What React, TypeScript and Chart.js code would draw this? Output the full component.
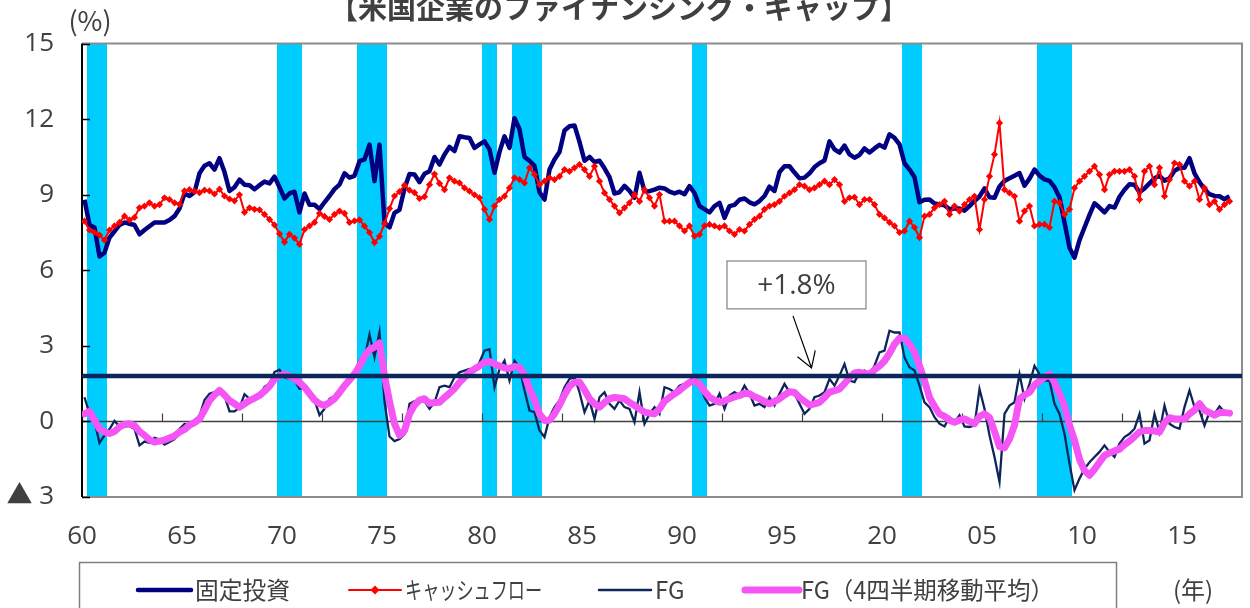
import React, { useEffect, useRef } from 'react';
import { Chart, registerables } from 'chart.js';

Chart.register(...registerables);

// ---------------- data ----------------
const START_YEAR = 1960; // first quarter = 1960Q1
const AXIS_QUARTERS = 232; // 1960Q1 .. 2017Q4
const X_LABELS = ['60', '65', '70', '75', '80', '85', '90', '95', '20', '05', '10', '15'];
const X_LABEL_STEP = 20; // quarters between year labels
const X_TICK_STEP = 16; // quarters between tick marks on the zero line
const Y_TICKS = [-3, 0, 3, 6, 9, 12, 15];
const Y_TICK_LABELS = ['▲ 3', '0', '3', '6', '9', '12', '15'];
const FG_AVERAGE = 1.8;
const FG_AVERAGE_TEXT = '+1.8%';
const TITLE = '【米国企業のファイナンシング・ギャップ】';
const SERIES_NAMES = ['固定投資', 'キャッシュフロー', 'FG', 'FG（4四半期移動平均）'];

// recession periods (fractional years, start / end)
const RECESSION_START = [1960.25, 1969.75, 1973.75, 1980.0, 1981.5, 1990.5, 2001.0, 2007.75];
const RECESSION_END = [1961.25, 1971.0, 1975.25, 1980.75, 1983.0, 1991.25, 2002.0, 2009.5];

const FIXED_INVESTMENT = [
  8.8, 7.8, 7.7, 6.55, 6.7, 7.3, 7.55, 7.8, 7.9, 7.85,
  7.8, 7.43, 7.6, 7.75, 7.9, 7.9, 7.9, 8.0, 8.15, 8.45,
  9.05, 8.95, 9.1, 9.85, 10.15, 10.25, 10.0, 10.45, 9.9, 9.15,
  9.3, 9.6, 9.4, 9.38, 9.22, 9.38, 9.52, 9.45, 9.72, 9.3,
  8.85, 9.05, 9.12, 8.3, 9.05, 8.6, 8.6, 8.43, 8.7, 8.95,
  9.22, 9.4, 9.85, 9.68, 9.75, 10.33, 10.4, 10.99, 9.54, 10.99,
  7.9, 7.7, 8.28, 8.4, 9.25, 9.82, 9.8, 9.5, 9.83, 9.93,
  10.5, 10.2, 10.6, 10.9, 10.73, 11.32, 11.28, 11.25, 10.86, 11.0,
  11.12, 10.8, 9.87, 10.7, 11.32, 10.86, 12.04, 11.6, 10.5, 10.35,
  10.15, 9.1, 8.81, 10.0, 10.4, 10.7, 11.55, 11.72, 11.75, 11.1,
  10.35, 10.5, 10.3, 10.35, 10.05, 9.7, 9.05, 9.1, 9.35, 9.15,
  8.88, 9.87, 9.14, 9.14, 9.2, 9.28, 9.25, 9.12, 9.05, 9.12,
  9.02, 9.34, 9.07, 8.55, 8.43, 8.3, 8.55, 8.68, 8.08, 8.55,
  8.6, 8.8, 8.85, 8.7, 8.62, 8.75, 8.95, 9.32, 9.15, 9.9,
  10.13, 10.13, 9.88, 9.65, 9.68, 9.85, 10.1, 10.25, 10.36, 11.12,
  10.8, 10.67, 10.95, 10.6, 10.47, 10.58, 10.84, 10.68, 10.84, 10.98,
  10.87, 11.4, 11.26, 11.0, 10.25, 10.0, 9.7, 8.7, 8.8, 8.81,
  8.65, 8.61, 8.58, 8.42, 8.45, 8.45, 8.37, 8.55, 8.75, 8.93,
  9.25, 8.9, 8.88, 9.33, 9.55, 9.65, 9.75, 9.86, 9.36, 9.64,
  10.0, 9.76, 9.61, 9.55, 9.3, 8.9, 7.9, 6.9, 6.5, 7.2,
  7.7, 8.2, 8.66, 8.49, 8.3, 8.55, 8.49, 8.92, 9.2, 9.42,
  9.4, 9.1, 9.25, 9.45, 9.65, 9.75, 9.56, 9.65, 9.95, 10.07,
  10.07, 10.45, 9.85, 9.5, 9.22, 9.02, 8.95, 8.94, 8.82, 8.94,
];

const CASH_FLOW = [
  7.95, 7.6, 7.5, 7.4, 7.2, 7.6, 7.76, 7.9, 8.15, 8.0,
  8.1, 8.48, 8.55, 8.68, 8.55, 8.61, 8.88, 8.81, 8.68, 8.62,
  9.15, 9.2, 9.14, 9.08, 9.18, 9.15, 9.03, 9.22, 8.95, 8.83,
  8.76, 9.0, 8.3, 8.48, 8.42, 8.4, 8.22, 8.02, 7.8, 7.45,
  7.12, 7.43, 7.28, 7.03, 7.62, 7.76, 7.9, 8.26, 8.14, 8.02,
  8.22, 8.35, 8.26, 7.9, 7.96, 8.0, 7.75, 7.5, 7.1, 7.35,
  7.85, 8.45, 8.95, 9.12, 9.38, 9.18, 9.08, 8.85, 8.92, 9.4,
  9.82, 9.45, 9.2, 9.67, 9.54, 9.47, 9.27, 9.14, 9.0, 8.88,
  8.42, 8.02, 8.55, 8.81, 8.94, 9.27, 9.67, 9.6, 9.47, 10.07,
  9.8, 9.4, 9.54, 9.67, 9.6, 9.73, 10.0, 9.93, 10.07, 10.2,
  10.0, 9.73, 10.13, 9.54, 9.07, 8.81, 8.55, 8.28, 8.48, 8.68,
  9.01, 8.74, 9.2, 8.88, 8.55, 9.01, 7.95, 7.95, 7.95, 7.76,
  7.56, 7.76, 7.36, 7.43, 7.76, 7.82, 7.76, 7.7, 7.76, 7.56,
  7.43, 7.62, 7.56, 7.82, 8.02, 8.15, 8.42, 8.55, 8.61, 8.74,
  8.94, 9.07, 9.2, 9.4, 9.34, 9.2, 9.27, 9.4, 9.54, 9.4,
  9.6, 9.4, 8.74, 8.88, 8.9, 8.61, 8.81, 8.81, 8.61, 8.22,
  8.08, 7.9, 7.76, 7.5, 7.56, 7.95, 7.7, 7.3, 8.15, 8.22,
  8.48, 8.61, 8.74, 8.22, 8.55, 8.35, 8.61, 8.81, 8.94, 7.62,
  8.81, 9.73, 10.6, 11.85, 9.2, 9.07, 8.94, 7.95, 8.35, 8.55,
  7.76, 7.82, 7.82, 7.7, 8.74, 8.68, 8.22, 8.42, 9.27, 9.54,
  9.73, 9.93, 10.13, 9.8, 9.2, 9.8, 9.93, 9.93, 9.93, 10.0,
  9.73, 8.81, 9.93, 10.13, 9.4, 10.07, 8.94, 9.6, 10.26, 10.2,
  9.54, 9.34, 9.54, 8.81, 9.27, 8.61, 8.74, 8.42, 8.61, 8.74,
];

const FG = [
  0.96, 0.3, 0.0, -0.85, -0.55, -0.3, 0.02, -0.2, -0.2, -0.18,
  -0.3, -0.95, -0.8, -0.85, -0.65, -0.72, -0.92, -0.82, -0.7, -0.3,
  -0.1, -0.14, 0.05, 0.22, 0.85, 1.1, 1.16, 1.27, 1.02, 0.4,
  0.4, 0.55, 1.08, 0.9, 0.96, 1.0, 1.37, 1.5, 1.96, 2.05,
  1.75, 1.69, 1.64, 1.3, 1.32, 1.0, 0.85, 0.25, 0.5, 0.9,
  1.0, 1.12, 1.3, 1.7, 1.95, 2.42, 2.5, 3.45, 2.55, 3.55,
  0.8, -0.6, -0.78, -0.7, -0.5, 0.7, 0.8, 0.78, 0.8, 0.5,
  0.75, 1.36, 1.42, 1.36, 1.75, 1.95, 2.02, 2.08, 2.02, 2.35,
  2.81, 2.87, 1.36, 2.08, 2.41, 1.62, 2.41, 2.15, 1.23, 0.43,
  0.37, -0.36, -0.62, 0.17, 0.57, 0.83, 1.36, 1.69, 1.75, 1.16,
  0.37, 0.83, 0.1, 0.96, 1.16, 0.7, 0.5, 0.83, 0.57, 0.5,
  -0.03, 1.16, -0.09, 0.3, 0.57, 0.3, 1.36, 1.29, 1.16, 1.42,
  1.49, 1.62, 1.82, 1.49, 0.96, 0.63, 0.7, 1.1, 0.5, 1.03,
  1.16, 1.03, 1.42, 1.1, 0.63, 0.7, 0.57, 0.96, 0.63, 1.1,
  1.49, 1.16, 1.1, 0.7, 0.3, 0.5, 0.96, 1.03, 1.16, 1.69,
  1.42, 1.82, 2.28, 1.62, 1.56, 1.95, 2.02, 1.88, 2.21, 2.74,
  2.81, 3.6, 3.53, 3.53, 2.54, 2.15, 2.02, 1.42, 0.76, 0.57,
  0.17, -0.09, -0.2, 0.17, -0.03, 0.24, -0.2, -0.22, -0.16, 1.29,
  0.5, -0.55, -1.41, -2.4, 0.3, 0.63, 0.76, 1.88, 0.9, 1.49,
  2.21, 1.88, 1.62, 1.62, 0.7, 0.3, -0.49, -1.67, -2.73, -2.27,
  -1.88, -1.62, -1.41, -1.21, -0.95, -1.21, -1.41, -0.88, -0.62, -0.49,
  -0.29, 0.3, -0.88, -0.75, 0.3, -0.42, 0.63, -0.09, -0.22, -0.29,
  0.57, 1.23, 0.57, 0.43, -0.16, 0.37, 0.3, 0.6, 0.37, 0.35,
];

const FG_MA4 = [
  0.3, 0.4, 0.05, -0.3, -0.42, -0.48, -0.4, -0.22, -0.12, -0.09,
  -0.16, -0.4, -0.55, -0.72, -0.82, -0.78, -0.74, -0.66, -0.58, -0.42,
  -0.32, -0.15, -0.05, 0.1, 0.45, 0.83, 1.05, 1.23, 1.05, 0.83,
  0.7, 0.57, 0.7, 0.83, 0.93, 1.03, 1.2, 1.4, 1.68, 1.8,
  1.88, 1.8, 1.7, 1.55, 1.36, 1.1, 0.85, 0.7, 0.63, 0.75,
  0.9, 1.15, 1.42, 1.65, 1.88, 2.2, 2.58, 2.85, 2.95, 3.12,
  1.8, 0.8, -0.1, -0.55, -0.36, 0.3, 0.65, 0.85, 0.9, 0.72,
  0.75, 0.76, 0.95, 1.12, 1.3, 1.55, 1.75, 1.95, 2.08, 2.2,
  2.35, 2.38, 2.28, 2.2, 2.12, 2.1, 2.18, 2.15, 1.85, 1.3,
  0.85, 0.3, 0.04, 0.05, 0.3, 0.65, 1.05, 1.4, 1.56, 1.56,
  1.25, 0.9, 0.7, 0.57, 0.75, 0.9, 0.95, 0.93, 0.9, 0.75,
  0.63, 0.5, 0.37, 0.33, 0.3, 0.5, 0.8, 0.95, 1.1, 1.23,
  1.4, 1.55, 1.6, 1.49, 1.2, 0.96, 0.85, 0.76, 0.82, 0.9,
  0.97, 1.03, 1.12, 1.1, 0.98, 0.9, 0.8, 0.7, 0.8, 0.9,
  1.05, 1.18, 1.15, 0.95, 0.8, 0.65, 0.7, 0.76, 0.95, 1.16,
  1.22, 1.29, 1.5, 1.75, 1.92, 1.95, 1.9, 1.88, 2.05, 2.2,
  2.4, 2.7, 3.07, 3.3, 3.3, 3.07, 2.75, 2.2, 1.62, 0.95,
  0.6, 0.3, 0.2, 0.05, -0.03, 0.05, 0.1, 0.0, -0.09, 0.2,
  0.3, 0.15, -0.4, -1.0, -1.05, -0.7, -0.15, 0.9, 1.05, 1.16,
  1.45, 1.6, 1.75, 1.88, 1.55, 1.1, 0.6, -0.15, -0.75, -1.5,
  -1.95, -2.14, -1.9, -1.62, -1.35, -1.25, -1.17, -1.1, -0.92, -0.78,
  -0.6, -0.42, -0.36, -0.36, -0.38, -0.42, -0.05, 0.15, 0.1, 0.1,
  0.1, 0.3, 0.45, 0.7, 0.45, 0.35, 0.25, 0.35, 0.35, 0.33,
];

// ---------------- styles ----------------
const C_FI = '#000080';
const C_CF = '#FF0000';
const C_FG = '#0C265C';
const C_MA = '#F455F4';
const C_BAND = '#00CCFF';
const C_TEXT = '#404040';
const NUM_FONT = "'Open Sans', 'Noto Sans CJK JP', sans-serif";
const JP_FONT = "'Noto Sans CJK JP', 'Noto Sans', sans-serif";

const toPoints = (vals: number[]) => vals.map((v, i) => ({ x: i + 0.5, y: v }));
const yearToQ = (yr: number) => (yr - START_YEAR) * 4;

const decorPlugin = {
  id: 'decor',
  beforeDatasetsDraw(chart: any) {
    const { ctx, chartArea: a, scales } = chart;
    const x = scales.x;
    const y = scales.y;
    ctx.save();
    // recession bands
    ctx.fillStyle = C_BAND;
    RECESSION_START.forEach((s, k) => {
      const x0 = x.getPixelForValue(yearToQ(s));
      const x1 = x.getPixelForValue(yearToQ(RECESSION_END[k]));
      ctx.fillRect(x0, a.top, x1 - x0, a.bottom - a.top);
    });
    // zero line with tick marks
    const y0 = y.getPixelForValue(0);
    ctx.strokeStyle = '#404040';
    ctx.lineWidth = 1.5;
    ctx.beginPath();
    ctx.moveTo(a.left, y0);
    ctx.lineTo(a.right, y0);
    ctx.stroke();
    ctx.lineWidth = 1.2;
    ctx.beginPath();
    for (let q = 0; q <= AXIS_QUARTERS; q += X_TICK_STEP) {
      const px = Math.round(x.getPixelForValue(q)) + 0.5;
      ctx.moveTo(px, y0);
      ctx.lineTo(px, y0 - 8);
    }
    ctx.stroke();
    // frame (top, right, bottom)
    ctx.strokeStyle = '#8C8C8C';
    ctx.lineWidth = 2;
    ctx.beginPath();
    ctx.moveTo(a.left, a.top);
    ctx.lineTo(a.right, a.top);
    ctx.lineTo(a.right, a.bottom);
    ctx.lineTo(a.left, a.bottom);
    ctx.stroke();
    // left axis + inner ticks
    ctx.strokeStyle = '#000000';
    ctx.lineWidth = 2;
    ctx.beginPath();
    ctx.moveTo(a.left, a.top);
    ctx.lineTo(a.left, a.bottom);
    ctx.stroke();
    ctx.lineWidth = 1.3;
    ctx.beginPath();
    Y_TICKS.forEach((v) => {
      const py = Math.round(y.getPixelForValue(v)) + 0.5;
      ctx.moveTo(a.left, py);
      ctx.lineTo(a.left + 8, py);
    });
    ctx.stroke();
    ctx.restore();
  },
  afterDraw(chart: any) {
    const { ctx, scales } = chart;
    const x = scales.x;
    const y = scales.y;
    ctx.save();
    // title (partly cut at the top)
    ctx.fillStyle = C_TEXT;
    ctx.font = `bold 29px ${JP_FONT}`;
    ctx.textAlign = 'center';
    ctx.textBaseline = 'middle';
    ctx.fillText(TITLE, 619, 8);
    // unit label
    ctx.font = `27px ${JP_FONT}`;
    ctx.fillText('(%)', 90, 21);

    // annotation box
    const bx0 = x.getPixelForValue(129);
    const bx1 = x.getPixelForValue(156.8);
    const by0 = y.getPixelForValue(6.37);
    const by1 = y.getPixelForValue(4.47);
    ctx.fillStyle = '#FFFFFF';
    ctx.fillRect(bx0, by0, bx1 - bx0, by1 - by0);
    ctx.strokeStyle = '#8C8C8C';
    ctx.lineWidth = 1.3;
    ctx.strokeRect(bx0, by0, bx1 - bx0, by1 - by0);
    ctx.fillStyle = C_TEXT;
    ctx.font = `28px ${NUM_FONT}`;
    ctx.fillText(FG_AVERAGE_TEXT, (bx0 + bx1) / 2, (by0 + by1) / 2 + 1);
    // arrow
    const ax0 = x.getPixelForValue(142.2);
    const ay0 = y.getPixelForValue(4.19);
    const ax1 = x.getPixelForValue(145.9);
    const ay1 = y.getPixelForValue(2.12);
    ctx.strokeStyle = '#000000';
    ctx.lineWidth = 1.2;
    ctx.beginPath();
    ctx.moveTo(ax0, ay0);
    ctx.lineTo(ax1, ay1);
    const ang = Math.atan2(ay0 - ay1, ax0 - ax1);
    const head = 18;
    const spread = 0.55;
    ctx.moveTo(ax1 + head * Math.cos(ang - spread), ay1 + head * Math.sin(ang - spread));
    ctx.lineTo(ax1, ay1);
    ctx.lineTo(ax1 + head * Math.cos(ang + spread), ay1 + head * Math.sin(ang + spread));
    ctx.stroke();

    // legend
    const ly = 590;
    ctx.strokeStyle = '#7F7F7F';
    ctx.lineWidth = 1.5;
    ctx.strokeRect(79.5, 562.5, 1037, 70);
    const items = [
      { x0: 138, x1: 191, color: C_FI, width: 4.5, marker: false, tx: 195, tw: 95 },
      { x0: 349, x1: 401, color: C_CF, width: 2, marker: true, tx: 405, tw: 137 },
      { x0: 599, x1: 651, color: C_FG, width: 2.5, marker: false, tx: 655, tw: 32 },
      { x0: 745, x1: 799, color: C_MA, width: 7, marker: false, tx: 801, tw: 253 },
    ];
    items.forEach((it, k) => {
      ctx.strokeStyle = it.color;
      ctx.lineWidth = it.width;
      ctx.lineCap = 'round';
      ctx.beginPath();
      ctx.moveTo(it.x0, ly);
      ctx.lineTo(it.x1, ly);
      ctx.stroke();
      if (it.marker) {
        const cx = (it.x0 + it.x1) / 2;
        ctx.fillStyle = it.color;
        ctx.beginPath();
        ctx.moveTo(cx, ly - 4.5);
        ctx.lineTo(cx + 4.5, ly);
        ctx.lineTo(cx, ly + 4.5);
        ctx.lineTo(cx - 4.5, ly);
        ctx.closePath();
        ctx.fill();
      }
      ctx.fillStyle = C_TEXT;
      ctx.font = `24px ${JP_FONT}`;
      ctx.textAlign = 'left';
      ctx.textBaseline = 'middle';
      ctx.fillText(SERIES_NAMES[k], it.tx, ly, it.tw);
    });
    ctx.textAlign = 'center';
    ctx.font = `24px ${JP_FONT}`;
    ctx.fillText('(年)', 1193, ly, 44);
    ctx.restore();
  },
};

export default function App() {
  const canvasRef = useRef<HTMLCanvasElement | null>(null);

  useEffect(() => {
    const canvas = canvasRef.current;
    if (!canvas) return;
    const chart = new Chart(canvas, {
      type: 'line',
      data: {
        datasets: [
          {
            label: 'FG平均',
            data: [
              { x: 0, y: FG_AVERAGE },
              { x: AXIS_QUARTERS, y: FG_AVERAGE },
            ],
            borderColor: C_FG,
            borderWidth: 4.5,
            pointRadius: 0,
          },
          {
            label: SERIES_NAMES[3],
            data: toPoints(FG_MA4),
            borderColor: C_MA,
            borderWidth: 7,
            pointRadius: 0,
            borderJoinStyle: 'round',
            borderCapStyle: 'round',
          },
          {
            label: SERIES_NAMES[2],
            data: toPoints(FG),
            borderColor: C_FG,
            borderWidth: 2.3,
            pointRadius: 0,
          },
          {
            label: SERIES_NAMES[1],
            data: toPoints(CASH_FLOW),
            borderColor: C_CF,
            borderWidth: 2,
            pointStyle: 'rectRot',
            pointRadius: 3.6,
            pointBackgroundColor: C_CF,
            pointBorderWidth: 0,
          },
          {
            label: SERIES_NAMES[0],
            data: toPoints(FIXED_INVESTMENT),
            borderColor: C_FI,
            borderWidth: 4.5,
            pointRadius: 0,
            borderJoinStyle: 'round',
          },
        ],
      },
      options: {
        animation: false,
        responsive: false,
        devicePixelRatio: 1,
        layout: { padding: { top: 42, right: 8, bottom: 0, left: 0 } },
        plugins: {
          legend: { display: false },
          tooltip: { enabled: false },
          title: { display: false },
        },
        elements: { line: { tension: 0 } },
        scales: {
          x: {
            type: 'linear',
            min: 0,
            max: AXIS_QUARTERS,
            grid: { display: false, drawTicks: false },
            border: { display: false },
            afterBuildTicks: (scale: any) => {
              scale.ticks = X_LABELS.map((_, k) => ({ value: k * X_LABEL_STEP }));
            },
            afterFit: (scale: any) => {
              scale.height = 111;
            },
            ticks: {
              autoSkip: false,
              maxRotation: 0,
              padding: 24,
              color: C_TEXT,
              font: { family: NUM_FONT, size: 26 },
              callback: (_v: any, i: number) => X_LABELS[i],
            },
          },
          y: {
            type: 'linear',
            min: -3,
            max: 15,
            grid: { display: false, drawTicks: false },
            border: { display: false },
            afterFit: (scale: any) => {
              scale.width = 82;
            },
            ticks: {
              stepSize: 3,
              padding: 28,
              color: C_TEXT,
              font: { family: NUM_FONT, size: 26 },
              callback: (v: any) => {
                const k = Y_TICKS.indexOf(Number(v));
                return k >= 0 ? Y_TICK_LABELS[k] : '';
              },
            },
          },
        },
      },
      plugins: [decorPlugin],
    } as any);
    return () => chart.destroy();
  }, []);

  return (
    <div style={{ position: 'fixed', left: 0, top: 0, width: 1250, height: 608, background: '#FFFFFF' }}>
      <canvas ref={canvasRef} width={1250} height={608} style={{ display: 'block' }} />
    </div>
  );
}
